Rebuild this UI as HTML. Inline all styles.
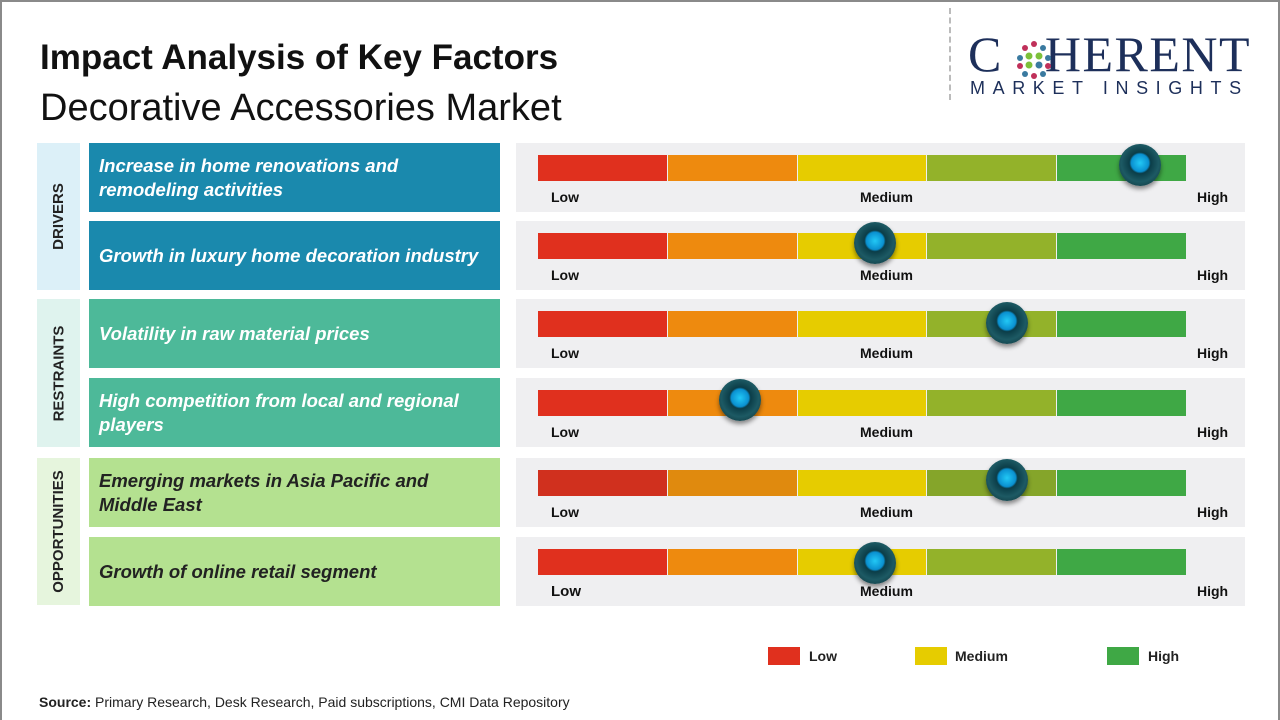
<!DOCTYPE html>
<html><head><style>
*{margin:0;padding:0;box-sizing:border-box}
body{width:1280px;height:720px;background:#fff;font-family:"Liberation Sans",sans-serif;position:relative;overflow:hidden}
.frame{position:absolute;left:0;top:0;width:1280px;height:720px;border:2px solid #8a8a8a;border-bottom:none}
.a{position:absolute}
.t1{left:40px;top:38px;font-size:35px;font-weight:bold;color:#111}
.t2{left:40px;top:87px;font-size:38px;color:#111}
.cat{position:absolute;left:37px;width:43px;display:flex;align-items:center;justify-content:center}
.cat span{transform:rotate(-90deg);white-space:nowrap;font-weight:bold;font-size:15px;color:#222}
.lab{position:absolute;left:89px;width:411px;height:69px;display:flex;align-items:center;padding-left:10px;font-style:italic;font-weight:bold;font-size:18.5px;line-height:24px}
.panel{position:absolute;left:516px;width:729px;height:69px;background:#efeff1}
.bar{position:absolute;left:22px;top:12px;height:26px;width:648px;display:flex;gap:1px}
.bar div{flex:1}
.lo,.me,.hi{position:absolute;top:46px;font-size:14px;font-weight:bold;color:#111}
.lo{left:35px}.me{left:344px}.hi{left:681px}
.knob{position:absolute;width:42px;height:42px;border-radius:50%;background:radial-gradient(circle at 50% 45%,#22c8f5 0,#0a90d0 28%,#0b3d48 34%,#1d5a64 60%,#0b2a30 100%);box-shadow:0 3px 5px rgba(0,0,0,.45)}
.lg{position:absolute;top:647px;width:32px;height:18px}
.lt{position:absolute;top:648px;font-size:14px;font-weight:bold;color:#222}
</style></head><body>
<div class="frame"></div>
<div class="a t1">Impact Analysis of Key Factors</div>
<div class="a t2">Decorative Accessories Market</div>
<div class="a" style="left:949px;top:8px;height:92px;border-left:2px dashed #bbb"></div>
<div class="a" style="left:968px;top:26px;font-family:'Liberation Serif',serif;font-size:50px;color:#1d2f5a;letter-spacing:1.5px;line-height:56px">C<span style="display:inline-block;width:42px"></span>HERENT</div>
<svg class="a" style="left:1012px;top:38px" width="44" height="44"><g>
<circle cx="22" cy="6" r="3" fill="#c0305a"/><circle cx="13" cy="10" r="3" fill="#c0305a"/><circle cx="31" cy="10" r="3" fill="#3a7aa0"/>
<circle cx="8" cy="20" r="3" fill="#3a7aa0"/><circle cx="17" cy="18" r="3.5" fill="#7cc03a"/><circle cx="27" cy="18" r="3.5" fill="#7cc03a"/><circle cx="36" cy="20" r="3" fill="#3a7aa0"/>
<circle cx="8" cy="28" r="3" fill="#c0305a"/><circle cx="17" cy="27" r="3.5" fill="#7cc03a"/><circle cx="27" cy="27" r="3.5" fill="#3a7aa0"/><circle cx="36" cy="28" r="3" fill="#c0305a"/>
<circle cx="13" cy="36" r="3" fill="#3a7aa0"/><circle cx="22" cy="38" r="3" fill="#c0305a"/><circle cx="31" cy="36" r="3" fill="#3a7aa0"/></g></svg>
<div class="a" style="left:970px;top:78px;font-size:18px;letter-spacing:7.6px;color:#1d2f5a">MARKET INSIGHTS</div>

<div class="cat" style="top:143px;height:147px;background:#dcf0f8"><span>DRIVERS</span></div>
<div class="cat" style="top:299px;height:148px;background:#dff3ee"><span>RESTRAINTS</span></div>
<div class="cat" style="top:458px;height:147px;background:#e6f5dd"><span>OPPORTUNITIES</span></div>

<div class="lab" style="top:143px;background:#1a89ad;color:#fff">Increase in home renovations and<br>remodeling activities</div>
<div class="lab" style="top:221px;background:#1a89ad;color:#fff">Growth in luxury home decoration industry</div>
<div class="lab" style="top:299px;background:#4db999;color:#fff">Volatility in raw material prices</div>
<div class="lab" style="top:378px;background:#4db999;color:#fff">High competition from local and regional<br>players</div>
<div class="lab" style="top:458px;background:#b4e190;color:#222">Emerging markets in Asia Pacific and<br>Middle East</div>
<div class="lab" style="top:537px;background:#b4e190;color:#222">Growth of online retail segment</div>

<div class="panel" style="top:143px"><div class="bar"><div style="background:#e0301e"></div><div style="background:#ee8a0e"></div><div style="background:#e6cc00"></div><div style="background:#93b22a"></div><div style="background:#3fa845"></div></div><span class="lo">Low</span><span class="me">Medium</span><span class="hi">High</span><div class="knob" style="left:603px;top:1px"></div></div>
<div class="panel" style="top:221px"><div class="bar"><div style="background:#e0301e"></div><div style="background:#ee8a0e"></div><div style="background:#e6cc00"></div><div style="background:#93b22a"></div><div style="background:#3fa845"></div></div><span class="lo">Low</span><span class="me">Medium</span><span class="hi">High</span><div class="knob" style="left:338px;top:1px"></div></div>
<div class="panel" style="top:299px"><div class="bar"><div style="background:#e0301e"></div><div style="background:#ee8a0e"></div><div style="background:#e6cc00"></div><div style="background:#93b22a"></div><div style="background:#3fa845"></div></div><span class="lo">Low</span><span class="me">Medium</span><span class="hi">High</span><div class="knob" style="left:470px;top:3px"></div></div>
<div class="panel" style="top:378px"><div class="bar"><div style="background:#e0301e"></div><div style="background:#ee8a0e"></div><div style="background:#e6cc00"></div><div style="background:#93b22a"></div><div style="background:#3fa845"></div></div><span class="lo">Low</span><span class="me">Medium</span><span class="hi">High</span><div class="knob" style="left:203px;top:1px"></div></div>
<div class="panel" style="top:458px"><div class="bar"><div style="background:#d0301e"></div><div style="background:#e08a0e"></div><div style="background:#e6cc00"></div><div style="background:#85a52a"></div><div style="background:#3fa845"></div></div><span class="lo">Low</span><span class="me">Medium</span><span class="hi">High</span><div class="knob" style="left:470px;top:1px"></div></div>
<div class="panel" style="top:537px"><div class="bar"><div style="background:#e0301e"></div><div style="background:#ee8a0e"></div><div style="background:#e6cc00"></div><div style="background:#93b22a"></div><div style="background:#3fa845"></div></div><span class="lo" style="font-size:15px">Low</span><span class="me">Medium</span><span class="hi">High</span><div class="knob" style="left:338px;top:5px"></div></div>

<div class="lg" style="left:768px;background:#e0301e"></div><span class="lt" style="left:809px">Low</span>
<div class="lg" style="left:915px;background:#e6cc00"></div><span class="lt" style="left:955px">Medium</span>
<div class="lg" style="left:1107px;background:#3fa845"></div><span class="lt" style="left:1148px">High</span>

<div class="a" style="left:39px;top:694px;font-size:14px;color:#222"><b>Source:</b> Primary Research, Desk Research, Paid subscriptions, CMI Data Repository</div>
</body></html>
